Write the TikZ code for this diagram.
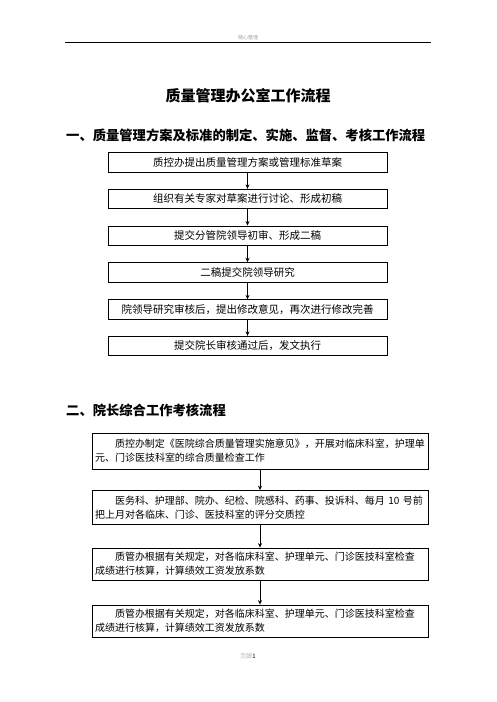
\documentclass[tikz,border=0pt]{standalone}
\usepackage{fontspec}
\setmainfont{Noto Sans CJK SC}
\usetikzlibrary{arrows.meta}
\begin{document}
\begin{tikzpicture}[x=1pt,y=-1pt,
  stepbox/.style={draw,line width=0.8pt,minimum width=279pt,minimum height=19.5pt,inner sep=0pt,font=\fontsize{10.5}{12}\selectfont},
  notebox/.style={draw,line width=0.8pt,minimum width=336pt,minimum height=34pt,text width=330pt,align=left,inner xsep=3pt,inner ysep=3pt,font=\fontsize{10}{14}\selectfont},
  flow/.style={-{Stealth[length=4.5pt,width=4pt]},line width=0.8pt},
  heading/.style={anchor=west,inner sep=0pt,font=\fontsize{13.3}{15}\selectfont\bfseries}]
\useasboundingbox (0,0) rectangle (496,702);
% page header and footer
\node[text=black!35,inner sep=0pt,font=\fontsize{5}{6}\selectfont] (hdr) at (248,38) {精心整理};
\draw[line width=0.7pt] (65,42)--(431,42);
\node[inner sep=0pt,font=\fontsize{6}{7}\selectfont] (ftr) at (248,656) {\textcolor{black!30}{页脚}1};
% titles
\node[inner sep=0pt,font=\fontsize{15}{17}\selectfont\bfseries] (title) at (248,96) {质量管理办公室工作流程};
\node[heading] (sec1) at (66,135) {一、质量管理方案及标准的制定、实施、监督、考核工作流程};
\node[heading] (sec2) at (66,410) {二、院长综合工作考核流程};
% first flow
\node[stepbox] (a1) at (247.5,162.5) {质控办提出质量管理方案或管理标准草案};
\node[stepbox] (a2) at (247.5,199) {组织有关专家对草案进行讨论、形成初稿};
\node[stepbox] (a3) at (247.5,235.7) {提交分管院领导初审、形成二稿};
\node[stepbox] (a4) at (247.5,272.4) {二稿提交院领导研究};
\node[stepbox] (a5) at (247.5,309.5) {院领导研究审核后，提出修改意见，再次进行修改完善};
\node[stepbox] (a6) at (247.5,346) {提交院长审核通过后，发文执行};
\foreach \i/\j in {a1/a2,a2/a3,a3/a4,a4/a5,a5/a6}
  \draw[flow] (\i) -- (\j);
% second flow
\node[notebox,minimum height=36pt] (b1) at (260,451) {\hspace*{2em}质控办制定《医院综合质量管理实施意见》，开展对临床科室，护理单\\元、门诊医技科室的综合质量检查工作};
\node[notebox] (b2) at (260,507.5) {\hspace*{2em}医务科、护理部、院办、纪检、院感科、药事、投诉科、每月 10 号前\\把上月对各临床、门诊、医技科室的评分交质控};
\node[notebox,minimum height=32pt] (b3) at (260,564) {\hspace*{2em}质管办根据有关规定，对各临床科室、护理单元、门诊医技科室检查\\成绩进行核算，计算绩效工资发放系数};
\node[notebox,minimum height=32pt] (b4) at (260,621) {\hspace*{2em}质管办根据有关规定，对各临床科室、护理单元、门诊医技科室检查\\成绩进行核算，计算绩效工资发放系数};
\foreach \i/\j in {b1/b2,b2/b3,b3/b4}
  \draw[flow] (\i) -- (\j);
\end{tikzpicture}
\end{document}
